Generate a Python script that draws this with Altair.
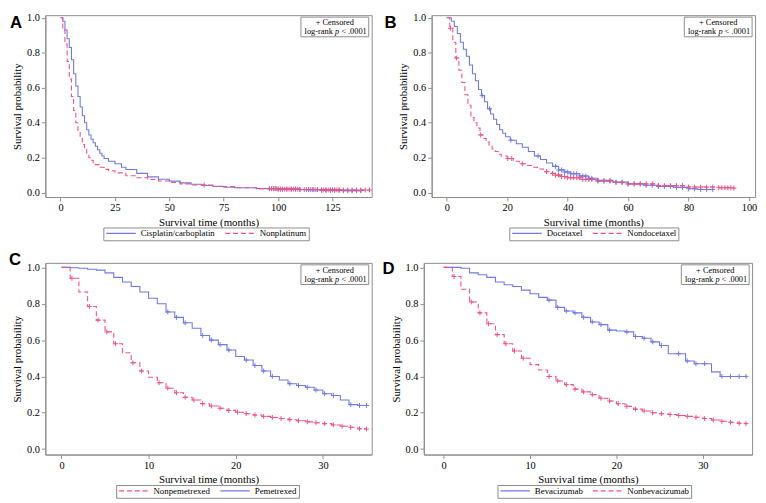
import altair as alt
import pandas as pd

BLUE = "#7079e3"
RED = "#ef5283"
SERIF = "Liberation Serif"
GRAY = "#8c8c8c"
PLUS = "M-1,0L1,0M0,-1L0,1"

# ---------------- Panel A ----------------
a_blue_name = "Cisplatin/carboplatin"
a_red_name = "Nonplatinum"
a_blue_t = [0, 1, 2, 3, 4, 5, 6, 7, 8, 9, 10, 11, 12, 13, 14, 15, 16, 17, 18, 19, 20,
            22, 25, 28, 30, 35, 40, 45, 50, 55, 60, 65, 70, 75, 80, 90, 100, 110, 120, 130, 138]
a_blue_s = [1.0, 0.98, 0.93, 0.88, 0.83, 0.76, 0.68, 0.61, 0.55, 0.49, 0.44, 0.40, 0.36, 0.33,
            0.305, 0.285, 0.265, 0.245, 0.225, 0.21, 0.195,
            0.18, 0.165, 0.145, 0.132, 0.11, 0.09, 0.077, 0.066, 0.056, 0.048, 0.041, 0.036,
            0.031, 0.028, 0.023, 0.02, 0.017, 0.013, 0.011, 0.011]
a_red_t = [0, 1, 2, 3, 4, 5, 6, 7, 8, 9, 10, 11, 12, 13, 14, 15, 16,
           18, 20, 22, 25, 30, 35, 40, 45, 50, 55, 60, 70, 80, 90, 100, 110, 120, 130, 142]
a_red_s = [1.0, 0.93, 0.85, 0.75, 0.65, 0.55, 0.47, 0.40, 0.35, 0.31, 0.275, 0.25, 0.22, 0.20,
           0.185, 0.17, 0.16,
           0.145, 0.133, 0.125, 0.113, 0.097, 0.085, 0.075, 0.067, 0.058, 0.05, 0.044, 0.035,
           0.028, 0.023, 0.02, 0.018, 0.016, 0.015, 0.015]
a_blue_cens = [96, 97, 98, 99, 100, 101, 102, 104, 106, 108, 110, 113, 114, 115, 116, 117, 118,
               120, 122, 124, 126, 128, 130, 132, 134, 136, 138]
a_red_cens = [66, 96, 97, 98, 99, 100, 101, 102, 103, 104, 105, 106, 107, 108, 109, 110, 112, 114,
              116, 118, 120, 121, 122, 123, 124, 125, 126, 127, 128, 130, 132, 134, 136, 138, 140, 142]
a_xticks = [0, 25, 50, 75, 100, 125]

# ---------------- Panel B ----------------
b_blue_name = "Docetaxel"
b_red_name = "Nondocetaxel"
b_blue_t = [0, 1.5, 2.5, 3.5, 4.5, 5.5, 6.5, 7.5, 8.5, 9.5, 10.5, 11.5, 12.5, 13.5, 14.5, 15.5,
            16.5, 17.5, 18.5, 19.5, 21, 23, 25, 27, 29, 31, 33, 35, 37, 39, 41,
            44, 47, 50, 55, 60, 65, 70, 75, 80, 83, 88]
b_blue_s = [1.0, 0.98, 0.95, 0.91, 0.86, 0.82, 0.78, 0.73, 0.68, 0.64, 0.59, 0.555, 0.52, 0.48,
            0.45, 0.42, 0.39, 0.36, 0.34, 0.32, 0.30, 0.28, 0.26, 0.235, 0.21, 0.19, 0.17, 0.15,
            0.13, 0.118, 0.108, 0.095, 0.082, 0.07, 0.06, 0.05, 0.042, 0.035, 0.03, 0.022, 0.018, 0.018]
b_red_t = [0, 1, 2, 3, 4, 5, 6, 7, 8, 9, 10, 11, 12, 13, 14, 15, 16, 17, 18,
           20, 22, 24, 26, 28, 30, 32, 34, 36, 38, 40, 45, 50, 55, 60, 70, 80, 90, 95]
b_red_s = [1.0, 0.94, 0.86, 0.77, 0.70, 0.63, 0.56, 0.50, 0.43, 0.40, 0.37, 0.33, 0.31, 0.29,
           0.27, 0.25, 0.235, 0.22, 0.21, 0.195, 0.18, 0.165, 0.155, 0.145, 0.135, 0.12, 0.11,
           0.10, 0.092, 0.085, 0.075, 0.065, 0.058, 0.05, 0.04, 0.032, 0.028, 0.026]
b_blue_cens = [11.7, 14.2, 21.2, 30.2, 36, 37, 38, 39, 40, 41, 42, 43, 44, 45, 46, 47, 48, 50, 52,
               54, 56, 58, 60, 62, 64, 66, 68, 70, 72, 74, 76, 78, 80, 82, 84, 86, 88]
b_red_cens = [1.2, 3.2, 11.2, 20.2, 21.5, 25, 33, 35, 36, 37, 38, 39, 40, 41, 42, 43, 44, 45, 46,
              47, 48, 50, 52, 54, 56, 58, 60, 62, 64, 66, 68, 70, 72, 74, 76, 78, 80, 82, 84, 86,
              88, 90, 91, 92, 93, 94, 95]
b_xticks = [0, 20, 40, 60, 80, 100]

# ---------------- Panel C ----------------
c_blue_name = "Pemetrexed"
c_red_name = "Nonpemetrexed"
c_t = list(range(36))
c_blue_s = [1.0, 0.998, 0.995, 0.99, 0.985, 0.97, 0.945, 0.92, 0.895, 0.865, 0.83, 0.80, 0.755,
            0.725, 0.695, 0.665, 0.625, 0.60, 0.575, 0.545, 0.51, 0.49, 0.46, 0.43, 0.40, 0.38,
            0.36, 0.35, 0.34, 0.325, 0.305, 0.295, 0.27, 0.245, 0.24, 0.24]
c_red_s = [1.0, 0.94, 0.865, 0.785, 0.71, 0.645, 0.58, 0.53, 0.475, 0.43, 0.395, 0.365, 0.335,
           0.31, 0.285, 0.27, 0.25, 0.237, 0.225, 0.213, 0.203, 0.195, 0.188, 0.18, 0.174, 0.168,
           0.162, 0.156, 0.15, 0.145, 0.14, 0.133, 0.126, 0.12, 0.112, 0.11]
c_blue_cens = [12.2, 13.2, 14.2, 16.2, 17.2, 18.2, 19.2, 21.2, 22.2, 23.2, 24.2, 26.2, 27.2,
               28.2, 29.2, 30.2, 31.2, 33.2, 34.2, 35]
c_red_cens = [1.2, 3.2, 4.2, 5.2, 6.2, 8.2, 9.2, 11.2, 12.2, 13.2, 14.2, 15.2, 16.2, 17.2, 18.2,
              19.2, 20.2, 21.2, 22.2, 23.2, 24.2, 25.2, 26.2, 27.2, 28.2, 29.2, 30.2, 31.2, 32.2,
              33.2, 34.2, 35]
cd_xticks = [0, 10, 20, 30]

# ---------------- Panel D ----------------
d_blue_name = "Bevacizumab"
d_red_name = "Nonbevacizumab"
d_t = list(range(36))
d_blue_s = [1.0, 1.0, 0.995, 0.97, 0.96, 0.945, 0.92, 0.905, 0.895, 0.875, 0.855, 0.835, 0.82,
            0.78, 0.76, 0.75, 0.725, 0.70, 0.685, 0.655, 0.65, 0.645, 0.62, 0.61, 0.59, 0.57,
            0.525, 0.525, 0.485, 0.47, 0.47, 0.425, 0.40, 0.40, 0.40, 0.40]
d_red_s = [1.0, 0.95, 0.88, 0.81, 0.75, 0.69, 0.63, 0.58, 0.54, 0.50, 0.465, 0.435, 0.40, 0.375,
           0.355, 0.33, 0.315, 0.30, 0.28, 0.265, 0.25, 0.235, 0.22, 0.21, 0.20, 0.195, 0.19,
           0.185, 0.18, 0.175, 0.168, 0.16, 0.153, 0.148, 0.142, 0.14]
d_blue_cens = [12.2, 13.2, 14.2, 15.2, 16.2, 17.2, 18.2, 19.2, 21.2, 22.2, 23.2, 24.2, 25.2,
               27.2, 28.2, 29.2, 30.2, 32.2, 33.2, 34.2, 35]
d_red_cens = [1.2, 3.2, 4.2, 5.2, 6.2, 7.2, 8.2, 9.2, 12.2, 13.2, 14.2, 15.2, 16.2, 17.2, 18.2,
              19.2, 20.2, 21.2, 22.2, 23.2, 24.2, 25.2, 26.2, 27.2, 28.2, 29.2, 30.2, 31.2, 32.2,
              33.2, 34.2, 35]

y_ticks = [0.0, 0.2, 0.4, 0.6, 0.8, 1.0]


def step_at(ts, ss, t):
    v = ss[0]
    for ti, si in zip(ts, ss):
        if ti <= t:
            v = si
        else:
            break
    return v


def panel(letter, blue_name, red_name, red_first, bt, bs, rt, rs, bc, rc,
          W, H, xdom, xticks, ydom, lab_dx, lab_y, leg_x):
    lines = pd.DataFrame({
        "t": list(bt) + list(rt),
        "s": list(bs) + list(rs),
        "g": [blue_name] * len(bt) + [red_name] * len(rt),
    })
    bcd = pd.DataFrame({"t": bc, "s": [step_at(bt, bs, t) for t in bc]})
    rcd = pd.DataFrame({"t": rc, "s": [step_at(rt, rs, t) for t in rc]})

    if red_first:
        dom = [red_name, blue_name]
        cols = [RED, BLUE]
        dashes = [[5, 3], [1, 0]]
    else:
        dom = [blue_name, red_name]
        cols = [BLUE, RED]
        dashes = [[1, 0], [5, 3]]

    leg = alt.Legend(title=None, orient="none", legendX=leg_x, legendY=H + 31,
                     direction="horizontal", symbolType="stroke", symbolSize=900,
                     symbolStrokeWidth=1.2, labelFont=SERIF, labelFontSize=9,
                     labelColor="black", labelOffset=4, columnPadding=9, padding=2,
                     strokeColor=GRAY, fillColor="white", clipHeight=8)

    xs = alt.Scale(domain=xdom, nice=False, zero=False)
    ys = alt.Scale(domain=ydom, nice=False, zero=False)
    x = alt.X("t:Q", scale=xs, axis=alt.Axis(values=xticks, title="Survival time (months)"))
    y = alt.Y("s:Q", scale=ys, axis=alt.Axis(values=y_ticks, format=".1f",
                                             title="Survival probability"))

    line = alt.Chart(lines).mark_line(interpolate="step-after", strokeWidth=1.1, clip=True).encode(
        x=x, y=y,
        color=alt.Color("g:N", scale=alt.Scale(domain=dom, range=cols), legend=leg),
        strokeDash=alt.StrokeDash("g:N", scale=alt.Scale(domain=dom, range=dashes), legend=leg),
    )
    bpts = alt.Chart(bcd).mark_point(shape=PLUS, size=25, filled=False, strokeWidth=1,
                                     color=BLUE, opacity=1).encode(x=x, y=y)
    rpts = alt.Chart(rcd).mark_point(shape=PLUS, size=25, filled=False, strokeWidth=1,
                                     color=RED, opacity=1).encode(x=x, y=y)

    one = pd.DataFrame({"a": [0]})
    box = alt.Chart(one).mark_rect(fill="white", stroke=GRAY, strokeWidth=1).encode(
        x=alt.value(W - 72), x2=alt.value(W - 3), y=alt.value(2), y2=alt.value(22))
    t1 = alt.Chart(one).mark_text(text="+ Censored", font=SERIF, fontSize=8.5, align="center",
                                  baseline="alphabetic", color="black").encode(
        x=alt.value(W - 37.5), y=alt.value(10))
    t2a = alt.Chart(one).mark_text(text="< .0001", font=SERIF, fontSize=8.5, align="right",
                                   baseline="alphabetic", color="black").encode(
        x=alt.value(W - 5), y=alt.value(19.5))
    t2b = alt.Chart(one).mark_text(text="p", font=SERIF, fontSize=8.5, fontStyle="italic",
                                   align="right", baseline="alphabetic", color="black").encode(
        x=alt.value(W - 33), y=alt.value(19.5))
    t2c = alt.Chart(one).mark_text(text="log-rank", font=SERIF, fontSize=8.5, align="right",
                                   baseline="alphabetic", color="black").encode(
        x=alt.value(W - 39.5), y=alt.value(19.5))
    lab = alt.Chart(one).mark_text(text=letter, font="Liberation Sans", fontWeight="bold",
                                   fontSize=17, align="left", baseline="top",
                                   color="black").encode(x=alt.value(lab_dx), y=alt.value(lab_y))

    return alt.layer(line, bpts, rpts, box, t1, t2a, t2b, t2c, lab).properties(width=W, height=H)


pA = panel("A", a_blue_name, a_red_name, False, a_blue_t, a_blue_s, a_red_t, a_red_s,
           a_blue_cens, a_red_cens, 332, 185, [-7, 143], a_xticks, [-0.025, 1.015], -36, 0, 59)
pB = panel("B", b_blue_name, b_red_name, False, b_blue_t, b_blue_s, b_red_t, b_red_s,
           b_blue_cens, b_red_cens, 329, 185, [-5, 102], b_xticks, [-0.025, 1.015], -48, 0, 79)
pC = panel("C", c_blue_name, c_red_name, True, c_t, c_blue_s, c_t, c_red_s,
           c_blue_cens, c_red_cens, 332, 195, [-1.85, 35.6], cd_xticks, [-0.03, 1.025], -37, -11, 72)
pD = panel("D", d_blue_name, d_red_name, False, d_t, d_blue_s, d_t, d_red_s,
           d_blue_cens, d_red_cens, 334, 195, [-2.3, 35.7], cd_xticks, [-0.03, 1.025], -42, -2, 75)

row1 = alt.hconcat(pA, pB, spacing=9).resolve_scale(
    x="independent", y="independent", color="independent", strokeDash="independent"
).resolve_legend(color="independent", strokeDash="independent")
row2 = alt.hconcat(pC, pD, spacing=9).resolve_scale(
    x="independent", y="independent", color="independent", strokeDash="independent"
).resolve_legend(color="independent", strokeDash="independent")

chart = alt.vconcat(row1, row2, spacing=9).resolve_scale(
    x="independent", y="independent", color="independent", strokeDash="independent"
).resolve_legend(color="independent", strokeDash="independent").properties(
    padding=0, background="white"
).configure_view(stroke=GRAY, strokeWidth=1).configure_axis(
    domainColor=GRAY, tickColor=GRAY, tickSize=4, grid=False,
    labelFont=SERIF, labelFontSize=10.5, labelColor="black", labelPadding=2,
    titleFont=SERIF, titleFontSize=11, titleFontWeight="normal", titleColor="black",
).configure_axisY(titlePadding=4).configure_axisX(titlePadding=3)

chart.save("out.html", embed_options={"renderer": "svg", "actions": False})
